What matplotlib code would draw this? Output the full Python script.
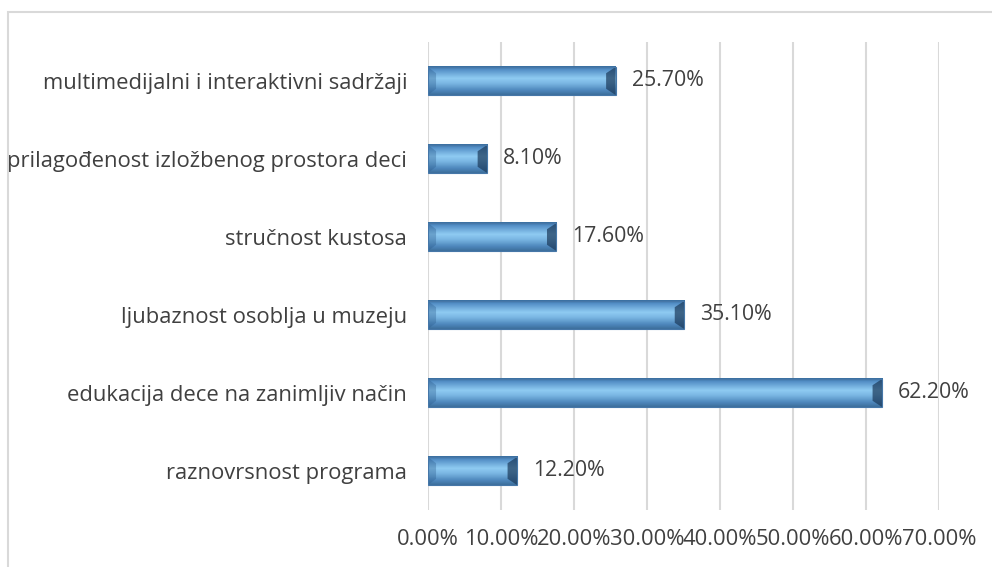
import matplotlib
matplotlib.use("Agg")
import matplotlib.pyplot as plt
import numpy as np
from matplotlib.colors import LinearSegmentedColormap
from matplotlib.patches import Rectangle, Polygon

categories = [
    "raznovrsnost programa",
    "edukacija dece na zanimljiv način",
    "ljubaznost osoblja u muzeju",
    "stručnost kustosa",
    "prilagođenost izložbenog prostora deci",
    "multimedijalni i interaktivni sadržaji",
]
values = [12.2, 62.2, 35.1, 17.6, 8.1, 25.7]
xticks = [0, 10, 20, 30, 40, 50, 60, 70]

plt.rcParams['font.family'] = ['Open Sans', 'DejaVu Sans']
text_color = "#404040"

fig = plt.figure(figsize=(9.92, 5.67), dpi=100)
W, H = 992, 567
ax = fig.add_axes([428 / W, 1 - 510 / H, (939 - 428) / W, (510 - 42) / H])

# outer chart frame (left/top visible)
fig.patches.append(Rectangle((8 / W, -0.1), 1.2, 1 - 12 / H + 0.1, transform=fig.transFigure,
                             fill=False, edgecolor="#d9d9d9", linewidth=1.5))

cmap = LinearSegmentedColormap.from_list("bar", [
    (0.0, "#3a6e9f"), (0.12, "#5590c8"), (0.42, "#8fcbf2"),
    (0.6, "#7ab6e3"), (0.85, "#4d86bb"), (1.0, "#3d6f9c")])
grad = np.linspace(0, 1, 64).reshape(-1, 1)

h = 0.36
for i, v in enumerate(values):
    ax.imshow(grad, cmap=cmap, aspect="auto", extent=[0, v, i - h / 2, i + h / 2],
              origin="upper", zorder=3, interpolation="bilinear")
    # bevelled right end
    ax.add_patch(Polygon([(v - 1.3, i - h / 2 + 0.08), (v, i - h / 2), (v, i + h / 2),
                          (v - 1.3, i + h / 2 - 0.08)], closed=True,
                         facecolor="#1c3a5a", alpha=0.7, edgecolor="none", zorder=4))
    ax.add_patch(Polygon([(1.1, i - h / 2 + 0.08), (0, i - h / 2), (0, i + h / 2),
                          (1.1, i + h / 2 - 0.08)], closed=True,
                         facecolor="#2a5a8a", alpha=0.35, edgecolor="none", zorder=4))
    ax.add_patch(Rectangle((0, i - h / 2), v, h, fill=False, edgecolor="#4677a8",
                           linewidth=0.8, zorder=5))
    ax.text(v + 2.2, i, f"{v:.2f}%", va="center", ha="left", fontsize=15.3,
            color=text_color, zorder=6)

ax.set_xlim(0, 70)
ax.set_ylim(-0.5, 5.5)
ax.set_xticks(xticks)
ax.set_xticklabels([f"{t:.2f}%" for t in xticks])
ax.set_yticks(range(len(categories)))
ax.set_yticklabels(categories)
ax.tick_params(axis="x", length=0, pad=14, labelsize=15.8, labelcolor=text_color)
ax.tick_params(axis="y", length=0, pad=15, labelsize=15.8, labelcolor=text_color)
ax.grid(axis="x", color="#d9d9d9", linewidth=1.5, zorder=0)
ax.set_axisbelow(True)
for s in ax.spines.values():
    s.set_visible(False)

fig.savefig("out.png", dpi=100)
